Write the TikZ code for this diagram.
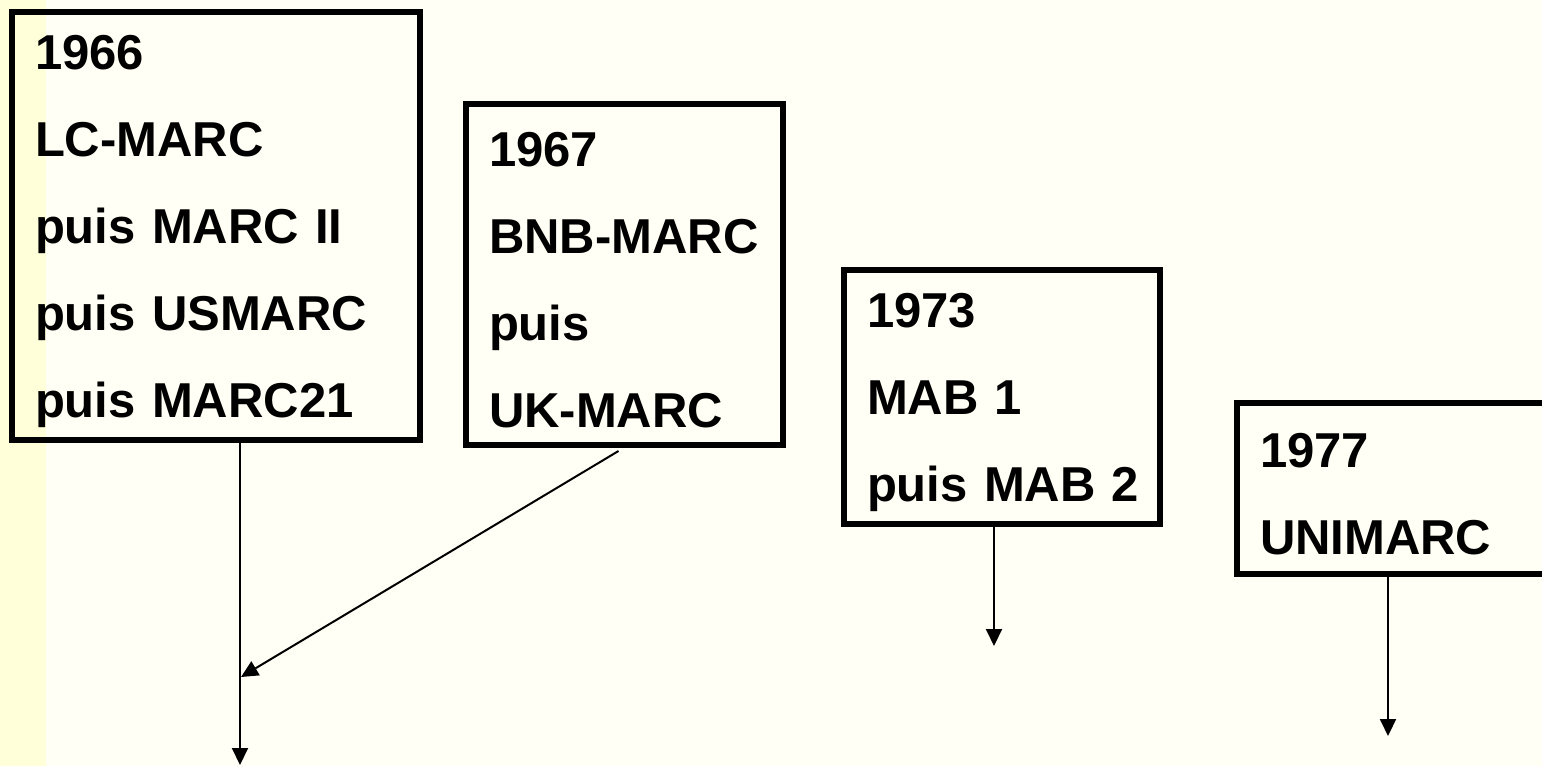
\documentclass[tikz,border=0pt]{standalone}
\usepackage{fontspec}
\setmainfont{Liberation Sans}
\usetikzlibrary{positioning,arrows.meta,calc}

\definecolor{bgcream}{HTML}{FFFFF5}
\definecolor{stripeyellow}{HTML}{FFFFDA}
\newcommand{\boxfont}{\fontsize{24.5pt}{43.5pt}\selectfont\bfseries}

\begin{document}
\begin{tikzpicture}[x=0.5pt,y=-0.5pt,
      boxnode/.style={draw,line width=3pt,align=left,inner xsep=11.5pt,inner ysep=0pt,
        execute at begin node={\rule{0pt}{22.5pt}},font=\boxfont},
      arr/.style={line width=1pt,-{Triangle[length=8.5pt,width=8pt]}}
    ]

    % the page
    \clip (0,0) rectangle (1542,766);
    \fill[bgcream] (0,0) rectangle (1542,766);
    \fill[stripeyellow] (0,0) rectangle (46,766);

    % the formats
    \node[boxnode,text width=181pt,minimum height=214pt] (lcmarc) at (216,226)
      {1966\\LC-MARC\\puis MARC II\\puis USMARC\\puis MARC21};
    \node[boxnode,text width=135.5pt,minimum height=170.5pt] (ukmarc) at (624.5,274.5)
      {1967\\BNB-MARC\\puis\\UK-MARC};
    \node[boxnode,text width=135pt,minimum height=127pt] (mab) at (1002,397)
      {1973\\MAB 1\\\mbox{puis MAB 2}};
    \node[boxnode,text width=158.5pt,minimum height=85.5pt] (unimarc) at (1418.5,488.5)
      {1977\\UNIMARC};

    % the arrow ends
    \coordinate (lcend) at (240,765);
    \coordinate (join) at (241,677);
    \coordinate (mabend) at (994,646);
    \coordinate (uniend) at (1388,736);

    % the arrows
    \draw[arr] (lcmarc.south -| lcend) -- (lcend);
    \draw[arr] ($(ukmarc.south)+(-6,3)$) -- (join);
    \draw[arr] (mab.south -| mabend) -- (mabend);
    \draw[arr] (unimarc.south -| uniend) -- (uniend);
\end{tikzpicture}
\end{document}
